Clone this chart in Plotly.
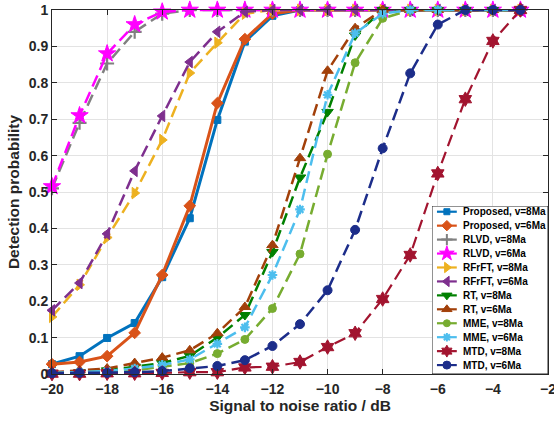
import plotly.graph_objects as go

snr = list(range(-20, -2))  # -20 .. -3 dB

proposed_v8 = [0.027, 0.049, 0.099, 0.14, 0.266, 0.428, 0.698, 0.913, 0.984, 1, 1, 1, 1, 1, 1, 1, 1, 1]
proposed_v6 = [0.027, 0.033, 0.049, 0.113, 0.272, 0.462, 0.744, 0.92, 0.99, 1, 1, 1, 1, 1, 1, 1, 1, 1]
rlvd_v8 = [0.51, 0.69, 0.853, 0.94, 0.99, 1, 1, 1, 1, 1, 1, 1, 1, 1, 1, 1, 1, 1]
rlvd_v6 = [0.515, 0.71, 0.88, 0.96, 0.995, 1, 1, 1, 1, 1, 1, 1, 1, 1, 1, 1, 1, 1]
rfrft_v8 = [0.157, 0.245, 0.375, 0.497, 0.643, 0.827, 0.91, 0.99, 1, 1, 1, 1, 1, 1, 1, 1, 1, 1]
rfrft_v6 = [0.175, 0.25, 0.385, 0.558, 0.709, 0.857, 0.94, 0.995, 1, 1, 1, 1, 1, 1, 1, 1, 1, 1]
rt_v8 = [0.003, 0.005, 0.01, 0.02, 0.03, 0.05, 0.10, 0.162, 0.335, 0.54, 0.72, 0.93, 1, 1, 1, 1, 1, 1]
rt_v6 = [0.005, 0.01, 0.015, 0.03, 0.045, 0.065, 0.112, 0.184, 0.354, 0.593, 0.833, 0.95, 1, 1, 1, 1, 1, 1]
mme_v8 = [0.002, 0.004, 0.006, 0.01, 0.02, 0.03, 0.056, 0.095, 0.18, 0.33, 0.604, 0.855, 0.977, 1, 1, 1, 1, 1]
mme_v6 = [0.003, 0.006, 0.008, 0.015, 0.025, 0.04, 0.083, 0.128, 0.272, 0.452, 0.767, 0.936, 0.99, 1, 1, 1, 1, 1]
mtd_v8 = [0.001, 0.001, 0.002, 0.002, 0.003, 0.005, 0.005, 0.018, 0.02, 0.033, 0.074, 0.112, 0.206, 0.327, 0.551, 0.755, 0.915, 1.0]
mtd_v6 = [0.002, 0.003, 0.003, 0.005, 0.008, 0.016, 0.022, 0.038, 0.077, 0.137, 0.23, 0.396, 0.62, 0.826, 0.96, 1, 1, 1]

x_ticks = [-20, -18, -16, -14, -12, -10, -8, -6, -4, -2]
y_ticks = [0, 0.1, 0.2, 0.3, 0.4, 0.5, 0.6, 0.7, 0.8, 0.9, 1]
y_tick_text = ["0", "0.1", "0.2", "0.3", "0.4", "0.5", "0.6", "0.7", "0.8", "0.9", "1"]

# name, values, colour, symbol, marker size, dash, line width, legend marker size
series = [
    ("Proposed, v=8Ma", proposed_v8, "#0072BD", "square", 7, "solid", 3, 6),
    ("Proposed, v=6Ma", proposed_v6, "#D95319", "diamond", 9, "solid", 3, 8),
    ("RLVD, v=8Ma", rlvd_v8, "#808080", "cross-thin", 10, "12px,6px", 2.5, 8),
    ("RLVD, v=6Ma", rlvd_v6, "#FF00FF", "star", 13, "12px,6px", 2.5, 11),
    ("RFrFT, v=8Ma", rfrft_v8, "#EDB120", "triangle-right", 10, "12px,6px", 2.5, 9),
    ("RFrFT, v=6Ma", rfrft_v6, "#7E2F8E", "triangle-left", 10, "12px,6px", 2.5, 9),
    ("RT, v=8Ma", rt_v8, "#008000", "triangle-down", 10, "12px,6px", 2.5, 9),
    ("RT, v=6Ma", rt_v6, "#A2400A", "triangle-up", 10, "12px,6px", 2.5, 9),
    ("MME, v=8Ma", mme_v8, "#77AC30", "circle", 8, "12px,6px", 2.5, 7),
    ("MME, v=6Ma", mme_v6, "#4DBEEE", "asterisk", 8, "12px,6px", 2.5, 7),
    ("MTD, v=8Ma", mtd_v8, "#A2142F", "hexagram", 11, "12px,6px", 2.2, 9),
    ("MTD, v=6Ma", mtd_v6, "#1C2D8A", "circle", 9, "12px,6px", 2.5, 8),
]

FONT = "Liberation Sans, Arial, sans-serif"
fig = go.Figure()

for name, vals, color, sym, size, dash, lw, lsize in series:
    mline = dict(color=color, width=2.2 if sym in ("cross-thin", "asterisk") else 1)
    fig.add_trace(go.Scatter(
        x=snr, y=vals, name=name, mode="lines+markers",
        line=dict(color=color, width=lw, dash=dash),
        marker=dict(symbol=sym, size=size, color=color, line=mline),
        cliponaxis=False, showlegend=False,
    ))

# custom compact legend drawn in its own small axes (rows 0..11)
for i, (name, vals, color, sym, size, dash, lw, lsize) in enumerate(series):
    mline = dict(color=color, width=2 if sym in ("cross-thin", "asterisk") else 1)
    fig.add_trace(go.Scatter(
        x=[5, 15, 25], y=[i, i, i], mode="lines",
        line=dict(color=color, width=2.2),
        xaxis="x2", yaxis="y2", showlegend=False, hoverinfo="skip", cliponaxis=False,
    ))
    fig.add_trace(go.Scatter(
        x=[15], y=[i], mode="markers",
        marker=dict(symbol=sym, size=lsize, color=color, line=mline),
        xaxis="x2", yaxis="y2", showlegend=False, hoverinfo="skip", cliponaxis=False,
    ))
    fig.add_annotation(
        x=29.5, y=i, xref="x2", yref="y2", text=name, showarrow=False,
        xanchor="left", yanchor="middle",
        font=dict(family=FONT, size=10, color="#000000", weight="bold"),
    )

fig.add_shape(
    type="rect", xref="x2", yref="y2", x0=0, x1=117, y0=-0.41, y1=11.64,
    fillcolor="white", line=dict(color="#262626", width=1), layer="below",
)

axis_font = dict(family=FONT, size=14, color="#262626", weight="bold")
title_font = dict(family=FONT, size=15.5, color="#262626", weight="bold")

plot_l, plot_r, plot_t, plot_b = 52, 548, 10, 374
pw, ph = plot_r - plot_l, plot_b - plot_t
leg_x0 = (432 - plot_l) / pw
leg_y1 = (plot_b - 206) / ph

fig.update_layout(
    width=554, height=423,
    margin=dict(l=plot_l, r=554 - plot_r, t=plot_t, b=423 - plot_b),
    paper_bgcolor="white", plot_bgcolor="white",
    showlegend=False,
    xaxis=dict(
        range=[-20, -2], tickvals=x_ticks, tickfont=axis_font, automargin=False,
        title=dict(text="Signal to noise ratio / dB", font=title_font, standoff=3),
        showgrid=True, gridcolor="#E3E3E3", gridwidth=1, zeroline=False,
        showline=True, linecolor="#262626", linewidth=1, mirror="ticks",
        ticks="inside", ticklen=5, tickcolor="#262626", ticklabelstandoff=2,
        ticklabeloverflow="allow",
    ),
    yaxis=dict(
        range=[0, 1], tickvals=y_ticks, ticktext=y_tick_text, tickfont=axis_font, automargin=False,
        title=dict(text="Detection probability", font=title_font, standoff=5),
        showgrid=True, gridcolor="#E3E3E3", gridwidth=1, zeroline=False,
        showline=True, linecolor="#262626", linewidth=1, mirror="ticks",
        ticks="inside", ticklen=5, tickcolor="#262626",
    ),
    xaxis2=dict(domain=[leg_x0, 1.0], range=[0, 117], anchor="y2", visible=False, fixedrange=True),
    yaxis2=dict(domain=[0.0, leg_y1], range=[11.64, -0.41], anchor="x2", visible=False, fixedrange=True),
)

fig.write_html(
    "out.html",
    config={"displayModeBar": False},
    post_script="document.body.style.margin='0';document.body.style.overflow='hidden';",
)
